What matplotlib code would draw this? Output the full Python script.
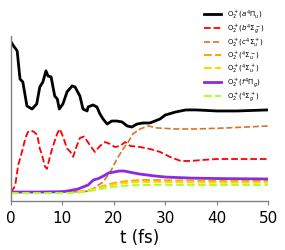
import matplotlib
matplotlib.use("Agg")
import matplotlib.pyplot as plt

# ---- data ----
t_a = [0, 0.5, 1.2, 1.75, 2.3, 3.1, 4.1, 5.0, 5.6, 6.2, 6.8, 7.2, 7.8, 8.5, 9.0, 9.4, 10.1, 10.9,
       11.9, 12.45, 13.4, 14.0, 14.8, 15.0, 15.95, 16.7, 17.3, 17.9, 18.7, 19.6, 20.6, 21.6, 22.6,
       23.5, 24.5, 25.7, 27, 28, 29, 30, 32, 34, 36, 40, 44, 50]
v_a = [1.0, 0.973, 0.94, 0.753, 0.733, 0.573, 0.553, 0.587, 0.70, 0.733, 0.807, 0.773, 0.767, 0.64,
       0.62, 0.553, 0.587, 0.667, 0.707, 0.70, 0.64, 0.553, 0.54, 0.567, 0.58, 0.567, 0.52, 0.487,
       0.453, 0.473, 0.473, 0.467, 0.44, 0.433, 0.453, 0.46, 0.46, 0.473, 0.487, 0.513, 0.533, 0.547,
       0.547, 0.54, 0.54, 0.547]

t_b = [0, 0.8, 1.4, 1.75, 2.3, 2.8, 3.3, 3.9, 4.5, 5.1, 5.6, 6.0, 6.6, 7.0, 7.6, 8.2, 9.0, 9.5, 10.1,
       10.9, 11.5, 12.1, 12.6, 13.4, 14.2, 15.0, 15.8, 16.3, 17.3, 18.3, 19.3, 20.2, 21.2, 22.2, 23.2,
       25.1, 27.0, 29, 31, 33, 35, 37, 40, 50]
v_b = [0, 0.04, 0.18, 0.22, 0.29, 0.36, 0.40, 0.41, 0.40, 0.38, 0.29, 0.25, 0.17, 0.155, 0.24, 0.31,
       0.39, 0.42, 0.37, 0.29, 0.27, 0.235, 0.29, 0.36, 0.37, 0.33, 0.29, 0.267, 0.307, 0.333, 0.32,
       0.30, 0.307, 0.333, 0.307, 0.30, 0.287, 0.267, 0.233, 0.207, 0.207, 0.213, 0.22, 0.22]

t_c = [0, 5, 10, 14, 15.4, 16.7, 17.9, 19.3, 20.6, 21.8, 22.8, 23.7, 25.1, 26.7, 28.4, 32, 36, 42, 50]
v_c = [0, 0, 0, 0.003, 0.007, 0.04, 0.067, 0.133, 0.22, 0.287, 0.333, 0.387, 0.42, 0.44, 0.427,
       0.42, 0.42, 0.427, 0.44]

t_s = [0, 5, 10, 12, 14, 16, 18, 20, 22, 25, 28, 32, 40, 50]
v_su_minus = [0, 0, 0, 0, 0.005, 0.02, 0.04, 0.06, 0.07, 0.08, 0.08, 0.077, 0.073, 0.073]
v_su_plus = [-0.003, -0.003, -0.003, -0.002, 0.004, 0.017, 0.034, 0.05, 0.06, 0.068, 0.067, 0.065, 0.063, 0.063]
v_sg_plus = [-0.007, -0.007, -0.007, -0.006, 0.0, 0.012, 0.025, 0.035, 0.042, 0.047, 0.048, 0.048, 0.047, 0.047]

t_f = [0, 5, 9, 10, 11, 13, 15, 16, 17, 18, 19, 20, 21, 22, 23, 25, 28, 30, 35, 40, 50]
v_f = [0, 0, 0.002, 0.003, 0.007, 0.02, 0.047, 0.08, 0.09, 0.107, 0.127, 0.133, 0.14, 0.14, 0.133,
       0.12, 0.107, 0.10, 0.093, 0.09, 0.087]

labels = [r"O$_2^+$($a^4\Pi_u$)", r"O$_2^+$($b^4\Sigma_g^-$)", r"O$_2^+$($c^4\Sigma_u^+$)",
          r"O$_2^+$($^4\Sigma_u^-$)", r"O$_2^+$($^4\Sigma_u^+$)", r"O$_2^+$($f^4\Pi_g$)",
          r"O$_2^+$($^4\Sigma_g^+$)"]
xticks = [0, 10, 20, 30, 40, 50]

# ---- plot ----
fig = plt.figure(figsize=(2.85, 2.51), dpi=100)
ax = fig.add_axes([0.0386, 0.195, 0.902, 0.658])

ax.plot(t_a, v_a, color="black", lw=2.0, label=labels[0])
ax.plot(t_b, v_b, color="red", lw=1.3, ls="--", label=labels[1])
ax.plot(t_c, v_c, color="#d9732b", lw=1.2, ls="--", label=labels[2])
ax.plot(t_s, v_su_minus, color="orange", lw=1.5, ls="--", label=labels[3])
ax.plot(t_s, v_su_plus, color="gold", lw=1.5, ls="--", label=labels[4])
ax.plot(t_f, v_f, color="blueviolet", lw=2.0, label=labels[5])
ax.plot(t_s, v_sg_plus, color="greenyellow", lw=1.5, ls="--", label=labels[6])

ax.set_xlim(0, 50)
ax.set_ylim(-0.06, 1.04)
ax.set_xticks(xticks)
ax.set_yticks([])
ax.tick_params(axis="x", labelsize=11, length=3, color="#808080")
ax.set_xlabel("t (fs)", fontsize=12, labelpad=2)
for s in ["top", "right"]:
    ax.spines[s].set_visible(False)
for s in ["left", "bottom"]:
    ax.spines[s].set_color("#808080")
    ax.spines[s].set_linewidth(1.0)

fig.legend(loc="upper left", bbox_to_anchor=(0.70, 0.985), frameon=False, fontsize=5,
           borderaxespad=0.3, handlelength=2.4, handletextpad=0.8, labelspacing=0.0)

fig.savefig("out.png", dpi=100)
